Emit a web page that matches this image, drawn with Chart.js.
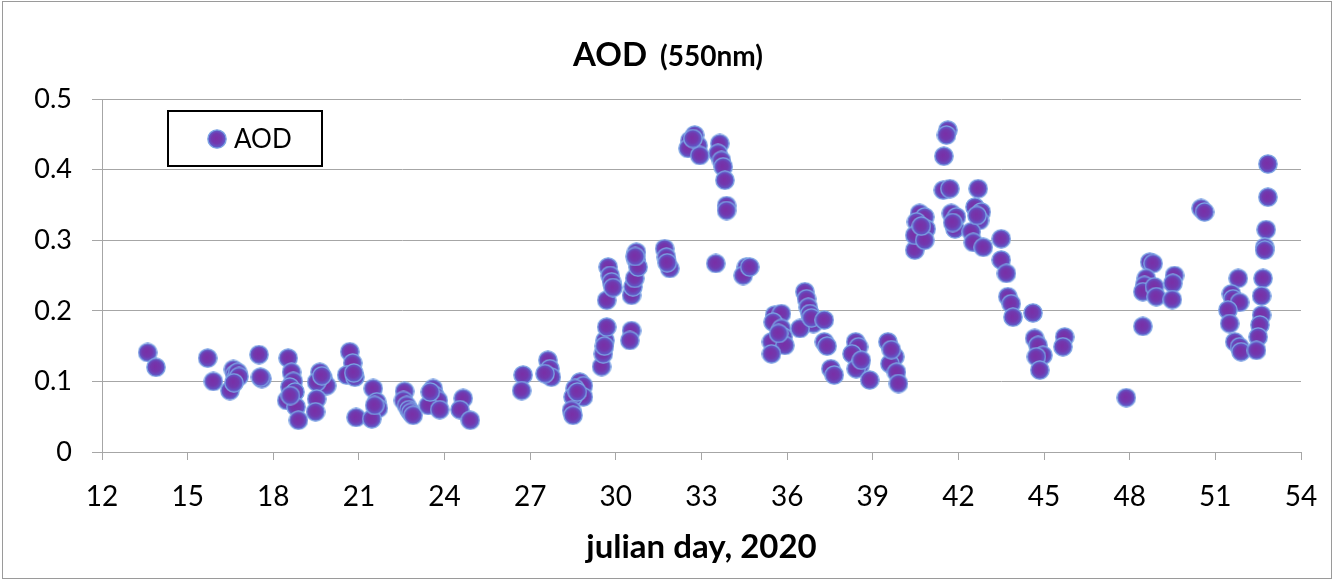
<!DOCTYPE html>
<html>
<head>
<meta charset="utf-8">
<script src="https://cdn.jsdelivr.net/npm/chart.js@4.4.0/dist/chart.umd.min.js"></script>
<style>
  html, body { margin: 0; padding: 0; background: #ffffff; }
  #wrap { width: 1334px; height: 581px; position: relative; }
  canvas { display: block; }
</style>
</head>
<body>
<div id="wrap"><canvas id="chart" width="1334" height="581"></canvas></div>
<script>
// Aerosol optical depth at 550 nm, one entry per observation (julian day of 2020).
const days = [
  13.6, 13.89,
  15.7, 15.9,
  16.48, 16.6, 16.65, 16.7, 16.75, 16.8, 16.62,
  17.5, 17.6, 17.55,
  18.52, 18.64, 18.7, 18.58, 18.76, 18.47, 18.8, 18.88, 18.6,
  19.63, 19.75, 19.87, 19.52, 19.52, 19.48, 19.7,
  20.68, 20.78, 20.57, 20.86, 20.9, 20.82,
  21.5, 21.62, 21.68, 21.45, 21.55,
  22.6, 22.56, 22.67, 22.75, 22.82, 22.9,
  23.6, 23.66, 23.78, 23.43, 23.83, 23.5,
  24.65, 24.54, 24.9,
  26.75, 26.7,
  27.62, 27.69, 27.74, 27.52,
  28.74, 28.86, 28.57, 28.86, 28.5, 28.45, 28.5, 28.65,
  29.5, 29.56, 29.62, 29.68, 29.68, 29.73, 29.8, 29.85, 29.9, 29.6,
  30.55, 30.49, 30.55, 30.6, 30.66, 30.72, 30.72, 30.78, 30.68,
  31.71, 31.77, 31.89, 31.8,
  32.59, 32.76, 32.88, 32.53, 32.94, 32.7,
  33.64, 33.58, 33.7, 33.76, 33.82, 33.88, 33.88, 33.5,
  34.57, 34.46, 34.69,
  35.56, 35.8, 35.51, 35.8, 35.86, 35.45, 35.92, 35.45, 35.7,
  36.62, 36.68, 36.74, 36.8, 36.92, 36.45, 36.85,
  37.3, 37.3, 37.4, 37.53, 37.65,
  38.4, 38.5, 38.27, 38.56, 38.42, 38.89, 38.6,
  39.53, 39.77, 39.6, 39.83, 39.9, 39.65,
  40.47, 40.64, 40.82, 40.53, 40.87, 40.47, 40.82, 40.7,
  41.63, 41.58, 41.49, 41.47, 41.7, 41.75, 41.93, 41.88, 41.8,
  42.69, 42.58, 42.8, 42.74, 42.45, 42.52, 42.87, 42.65,
  43.5, 43.5, 43.68, 43.73, 43.85, 43.91,
  44.61, 44.67, 44.79, 44.96, 44.73, 44.85,
  45.72, 45.66,
  47.88,
  48.46, 48.7, 48.82, 48.58, 48.52, 48.46, 48.87, 48.93,
  49.57, 49.51, 49.49,
  50.5, 50.62,
  51.8, 51.56, 51.62, 51.85, 51.44, 51.5, 51.68, 51.85, 51.9,
  52.84, 52.84, 52.78, 52.73, 52.73, 52.67, 52.62, 52.62, 52.56, 52.5, 52.44
];

const aod = [
  0.141, 0.120,
  0.133, 0.100,
  0.087, 0.117, 0.110, 0.105, 0.113, 0.107, 0.098,
  0.138, 0.104, 0.106,
  0.133, 0.113, 0.100, 0.092, 0.085, 0.073, 0.064, 0.045, 0.080,
  0.113, 0.104, 0.094, 0.099, 0.075, 0.057, 0.108,
  0.142, 0.126, 0.109, 0.106, 0.049, 0.112,
  0.090, 0.071, 0.062, 0.047, 0.066,
  0.086, 0.073, 0.066, 0.060, 0.056, 0.052,
  0.090, 0.080, 0.073, 0.066, 0.060, 0.085,
  0.076, 0.060, 0.045,
  0.109, 0.087,
  0.130, 0.118, 0.106, 0.111,
  0.099, 0.094, 0.090, 0.078, 0.078, 0.059, 0.052, 0.085,
  0.121, 0.139, 0.158, 0.177, 0.215, 0.262, 0.250, 0.241, 0.233, 0.150,
  0.172, 0.158, 0.222, 0.234, 0.246, 0.283, 0.272, 0.262, 0.277,
  0.288, 0.276, 0.260, 0.268,
  0.441, 0.449, 0.434, 0.430, 0.420, 0.444,
  0.437, 0.423, 0.413, 0.404, 0.385, 0.349, 0.342, 0.267,
  0.262, 0.250, 0.262,
  0.194, 0.196, 0.184, 0.175, 0.163, 0.156, 0.151, 0.139, 0.168,
  0.227, 0.217, 0.205, 0.196, 0.182, 0.175, 0.190,
  0.187, 0.156, 0.150, 0.118, 0.109,
  0.156, 0.149, 0.139, 0.123, 0.118, 0.102, 0.130,
  0.156, 0.135, 0.125, 0.113, 0.097, 0.145,
  0.286, 0.338, 0.333, 0.326, 0.316, 0.307, 0.300, 0.320,
  0.456, 0.449, 0.419, 0.371, 0.373, 0.338, 0.333, 0.316, 0.325,
  0.373, 0.347, 0.340, 0.328, 0.312, 0.297, 0.290, 0.335,
  0.302, 0.272, 0.253, 0.220, 0.210, 0.191,
  0.197, 0.161, 0.151, 0.137, 0.135, 0.116,
  0.163, 0.149,
  0.077,
  0.178, 0.269, 0.267, 0.246, 0.236, 0.227, 0.234, 0.220,
  0.250, 0.239, 0.216,
  0.345, 0.340,
  0.246, 0.224, 0.217, 0.212, 0.201, 0.182, 0.156, 0.149, 0.142,
  0.408, 0.361, 0.315, 0.290, 0.286, 0.246, 0.221, 0.194, 0.180, 0.163, 0.144
];

const seriesName = 'AOD';
const titleMain = 'AOD';
const titleSub = '(550nm)';
const xTitle = 'julian day, 2020';

const FONT = 'Lato, "Open Sans", sans-serif';
const GRID = '#a6a6a6';

// Round marker: purple body shading to blue at the rim, thin light-blue outline.
function makeMarker(size) {
  const c = document.createElement('canvas');
  c.width = size;
  c.height = size;
  const g = c.getContext('2d');
  const r = size / 2 - 0.8;
  const m = size / 2;
  const grad = g.createRadialGradient(m - 1, m - 1, 0, m, m, r);
  grad.addColorStop(0, '#7a2fa6');
  grad.addColorStop(0.55, '#7238ae');
  grad.addColorStop(1, '#5a62d0');
  g.beginPath();
  g.arc(m, m, r, 0, Math.PI * 2);
  g.fillStyle = grad;
  g.fill();
  g.lineWidth = 1.3;
  g.strokeStyle = '#7ea6e4';
  g.stroke();
  return c;
}
const marker = makeMarker(20);

const points = days.map((d, i) => ({ x: d, y: aod[i] }));

// Title with a smaller wavelength suffix, boxed legend and outer frame.
const decorations = {
  id: 'decorations',
  beforeDraw(chart) {
    const ctx = chart.ctx;
    ctx.save();
    ctx.fillStyle = '#ffffff';
    ctx.fillRect(0, 0, chart.width, chart.height);
    ctx.restore();
  },
  afterDraw(chart) {
    const ctx = chart.ctx;
    ctx.save();
    // frame
    ctx.strokeStyle = '#9a9a9a';
    ctx.lineWidth = 1;
    ctx.strokeRect(2.5, 1.5, chart.width - 5, chart.height - 4);

    // title
    ctx.fillStyle = '#000';
    ctx.textBaseline = 'alphabetic';
    ctx.textAlign = 'left';
    const f1 = 'bold 33px ' + FONT;
    const f2 = 'bold 28px ' + FONT;
    ctx.font = f1;
    const w1 = ctx.measureText(titleMain).width;
    ctx.font = f2;
    const w2 = ctx.measureText(titleSub).width;
    const gap = 13;
    const cx = 668;
    const x0 = cx - (w1 + gap + w2) / 2;
    ctx.font = f1;
    ctx.fillText(titleMain, x0, 66);
    ctx.font = f2;
    ctx.fillText(titleSub, x0 + w1 + gap, 66);

    // legend
    const ds = chart.data.datasets[0];
    ctx.strokeStyle = '#000';
    ctx.lineWidth = 2;
    ctx.strokeRect(168, 111, 154, 55);
    ctx.drawImage(ds.pointStyle, 207, 129);
    ctx.fillStyle = '#000';
    ctx.font = '26px ' + FONT;
    ctx.textBaseline = 'middle';
    ctx.fillText(ds.label, 234, 140);
    ctx.restore();
  }
};

new Chart(document.getElementById('chart'), {
  type: 'scatter',
  data: {
    datasets: [{
      label: seriesName,
      data: points,
      pointStyle: marker,
      pointRadius: 10,
      pointHoverRadius: 10
    }]
  },
  options: {
    responsive: false,
    animation: false,
    devicePixelRatio: 1,
    layout: { padding: { top: 99, right: 33, left: 0, bottom: 0 } },
    plugins: {
      legend: { display: false },
      title: { display: false },
      tooltip: { enabled: false }
    },
    scales: {
      x: {
        type: 'linear',
        min: 12,
        max: 54,
        afterFit(scale) {
          scale.height = 129;
          scale.paddingLeft = 0;
          scale.paddingRight = 0;
        },
        ticks: {
          stepSize: 3,
          color: '#000',
          font: { family: FONT, size: 28 },
          padding: 20,
          maxRotation: 0
        },
        grid: {
          drawOnChartArea: false,
          drawTicks: true,
          tickLength: 8,
          color: GRID
        },
        border: { color: GRID, width: 1 },
        title: {
          display: true,
          text: xTitle,
          color: '#000',
          font: { family: FONT, size: 33, weight: 'bold' },
          padding: { top: 0, bottom: 14 }
        }
      },
      y: {
        min: 0,
        max: 0.5,
        afterFit(scale) { scale.width = 102; },
        ticks: {
          stepSize: 0.1,
          color: '#000',
          font: { family: FONT, size: 27 },
          padding: 20,
          callback: v => (Math.abs(v) < 1e-9 ? '0' : v.toFixed(1))
        },
        grid: {
          color: GRID,
          tickLength: 10,
          lineWidth: 1
        },
        border: { color: GRID, width: 1 }
      }
    }
  },
  plugins: [decorations]
});
</script>
</body>
</html>
